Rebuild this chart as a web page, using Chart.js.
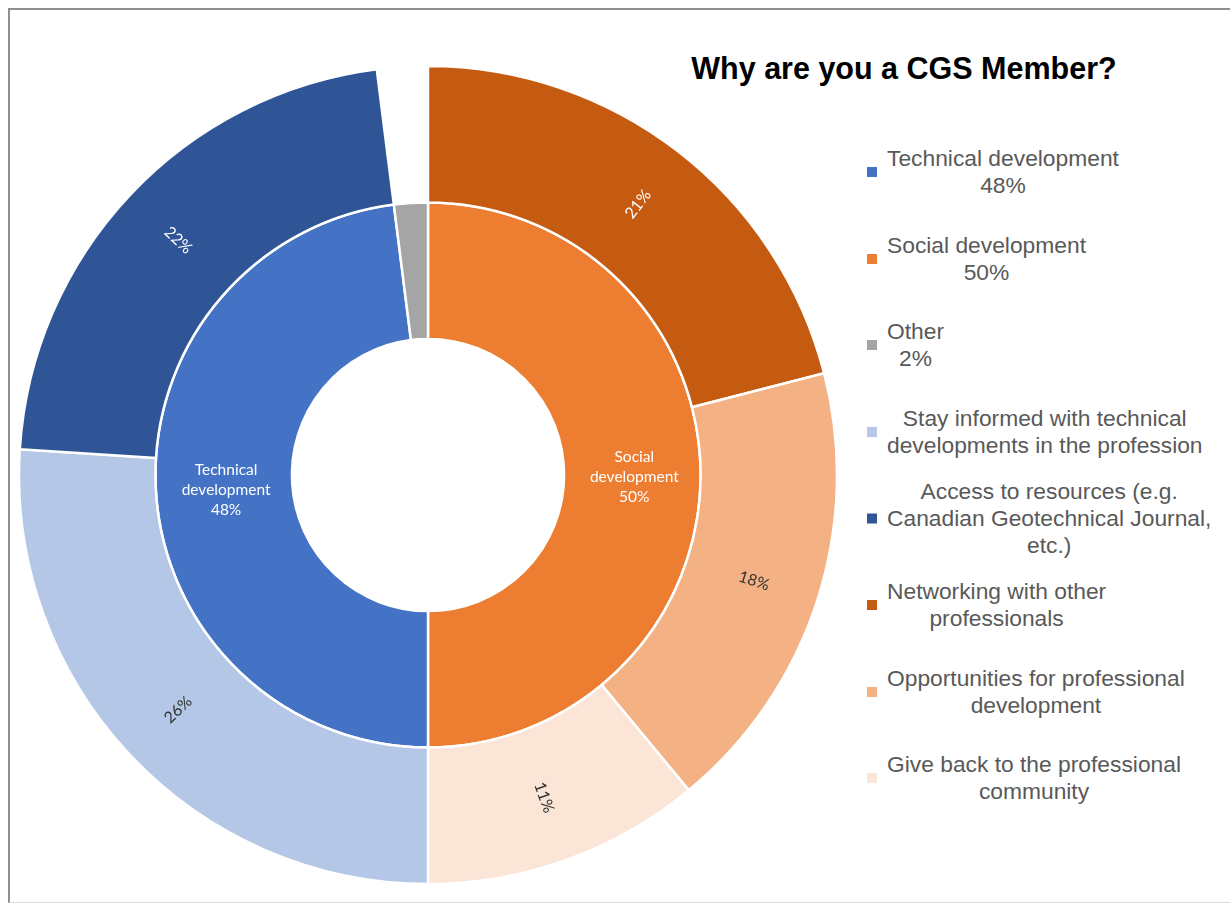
<!DOCTYPE html>
<html>
<head>
<meta charset="utf-8">
<script src="https://cdn.jsdelivr.net/npm/chart.js@4/dist/chart.umd.min.js"></script>
<style>
  html, body { margin: 0; padding: 0; background: #fff; }
  body { width: 1230px; height: 903px; position: relative; overflow: hidden; font-family: 'Liberation Sans', Arial, sans-serif; }
  #frame { position: absolute; left: 8px; top: 8px; width: 1240px; height: 892px; border-left: 2px solid #8f8f8f; border-top: 2px solid #8f8f8f; border-bottom: 1px solid #dcdcdc; }
  #wrap { position: absolute; left: 18px; top: 65px; width: 820px; height: 820px; }
  #title { position: absolute; left: 904px; top: 68px; transform: translate(-50%, -50%); font-size: 30.5px; font-weight: bold; color: #000; white-space: nowrap; }
  .item { position: absolute; left: 867px; display: flex; align-items: center; transform: translateY(-50%); }
  .mark { width: 10px; height: 10px; margin-right: 10px; }
  .txt { text-align: center; font-size: 22.8px; line-height: 27px; color: #595959; white-space: nowrap; }
</style>
</head>
<body>
<div id="frame"></div>
<div id="title">Why are you a CGS Member?</div>
<div id="legend"></div>
<div id="wrap"><canvas id="chart" width="820" height="820"></canvas></div>
<script>
const innerLabels = ['Social development', 'Technical development', 'Other'];
const innerValues = [50, 48, 2];
const innerColors = ['#ED7D31', '#4472C4', '#A5A5A5'];

const outerLabels = [
  'Networking with other professionals',
  'Opportunities for professional development',
  'Give back to the professional community',
  'Stay informed with technical developments in the profession',
  'Access to resources (e.g. Canadian Geotechnical Journal, etc.)',
  '',
];
const outerValues = [21, 18, 11, 26, 22, 2];
const outerColors = ['#C55A11', '#F4B183', '#FBE5D6', '#B4C7E7', '#2F5597', 'rgba(0,0,0,0)'];
const outerTextColors = ['#ffffff', '#333333', '#333333', '#333333', '#ffffff', ''];

const legendLines = [
  ['Technical development', '48%'],
  ['Social development', '50%'],
  ['Other', '2%'],
  ['Stay informed with technical', 'developments in the profession'],
  ['Access to resources (e.g.', 'Canadian Geotechnical Journal,', 'etc.)'],
  ['Networking with other', 'professionals'],
  ['Opportunities for professional', 'development'],
  ['Give back to the professional', 'community'],
];
const legendColors = ['#4472C4', '#ED7D31', '#A5A5A5', '#B4C7E7', '#2F5597', '#C55A11', '#F4B183', '#FBE5D6'];

// html legend, one block per entry
const legendEl = document.getElementById('legend');
legendLines.forEach((lines, i) => {
  const item = document.createElement('div');
  item.className = 'item';
  item.style.top = (172 + i * 86.6) + 'px';
  item.innerHTML = `<div class="mark" style="background:${legendColors[i]}"></div>` +
    `<div class="txt">${lines.join('<br>')}</div>`;
  legendEl.appendChild(item);
});

// percentage / name labels drawn on the arcs
const arcLabels = {
  id: 'arcLabels',
  afterDatasetsDraw(chart) {
    const ctx = chart.ctx;
    ctx.save();
    ctx.textAlign = 'center';
    ctx.textBaseline = 'middle';

    // outer ring: rotated along the radius
    chart.getDatasetMeta(0).data.forEach((arc, i) => {
      if (!outerLabels[i]) return;
      const p = arc.getProps(['x', 'y', 'startAngle', 'endAngle', 'innerRadius', 'outerRadius']);
      const mid = (p.startAngle + p.endAngle) / 2;
      const r = (p.innerRadius + p.outerRadius) / 2 + 2;
      let rot = mid;
      if (Math.cos(mid) < 0) rot += Math.PI;
      ctx.save();
      ctx.translate(p.x + Math.cos(mid) * r, p.y + Math.sin(mid) * r);
      ctx.rotate(rot);
      ctx.font = '16px Lato';
      ctx.fillStyle = outerTextColors[i];
      ctx.fillText(outerValues[i] + '%', 0, 0);
      ctx.restore();
    });

    // inner ring: horizontal, name + value
    chart.getDatasetMeta(1).data.forEach((arc, i) => {
      if (innerLabels[i] === 'Other') return;
      const p = arc.getProps(['x', 'y', 'startAngle', 'endAngle', 'innerRadius', 'outerRadius']);
      const mid = (p.startAngle + p.endAngle) / 2;
      const r = (p.innerRadius + p.outerRadius) / 2;
      const cx = p.x + Math.cos(mid) * r + 2;
      const cy = p.y + Math.sin(mid) * r + 2;
      const words = innerLabels[i].split(' ');
      const lines = [...words, innerValues[i] + '%'];
      ctx.font = '15.5px Lato';
      ctx.fillStyle = '#ffffff';
      lines.forEach((t, k) => {
        ctx.fillText(t, cx, cy + (k - (lines.length - 1) / 2) * 20);
      });
    });
    ctx.restore();
  },
};

new Chart(document.getElementById('chart'), {
  type: 'doughnut',
  data: {
    labels: outerLabels,
    datasets: [
      {
        data: outerValues,
        backgroundColor: outerColors,
        borderColor: '#ffffff',
        borderWidth: [2.5, 2.5, 2.5, 2.5, 2.5, 0],
      },
      {
        data: innerValues,
        backgroundColor: innerColors,
        borderColor: '#ffffff',
        borderWidth: 2.5,
      },
    ],
  },
  options: {
    responsive: false,
    animation: false,
    radius: 409,
    cutout: 136,
    layout: { padding: 0 },
    plugins: {
      legend: { display: false },
      tooltip: { enabled: false },
      title: { display: false },
    },
  },
  plugins: [arcLabels],
});
</script>
</body>
</html>
